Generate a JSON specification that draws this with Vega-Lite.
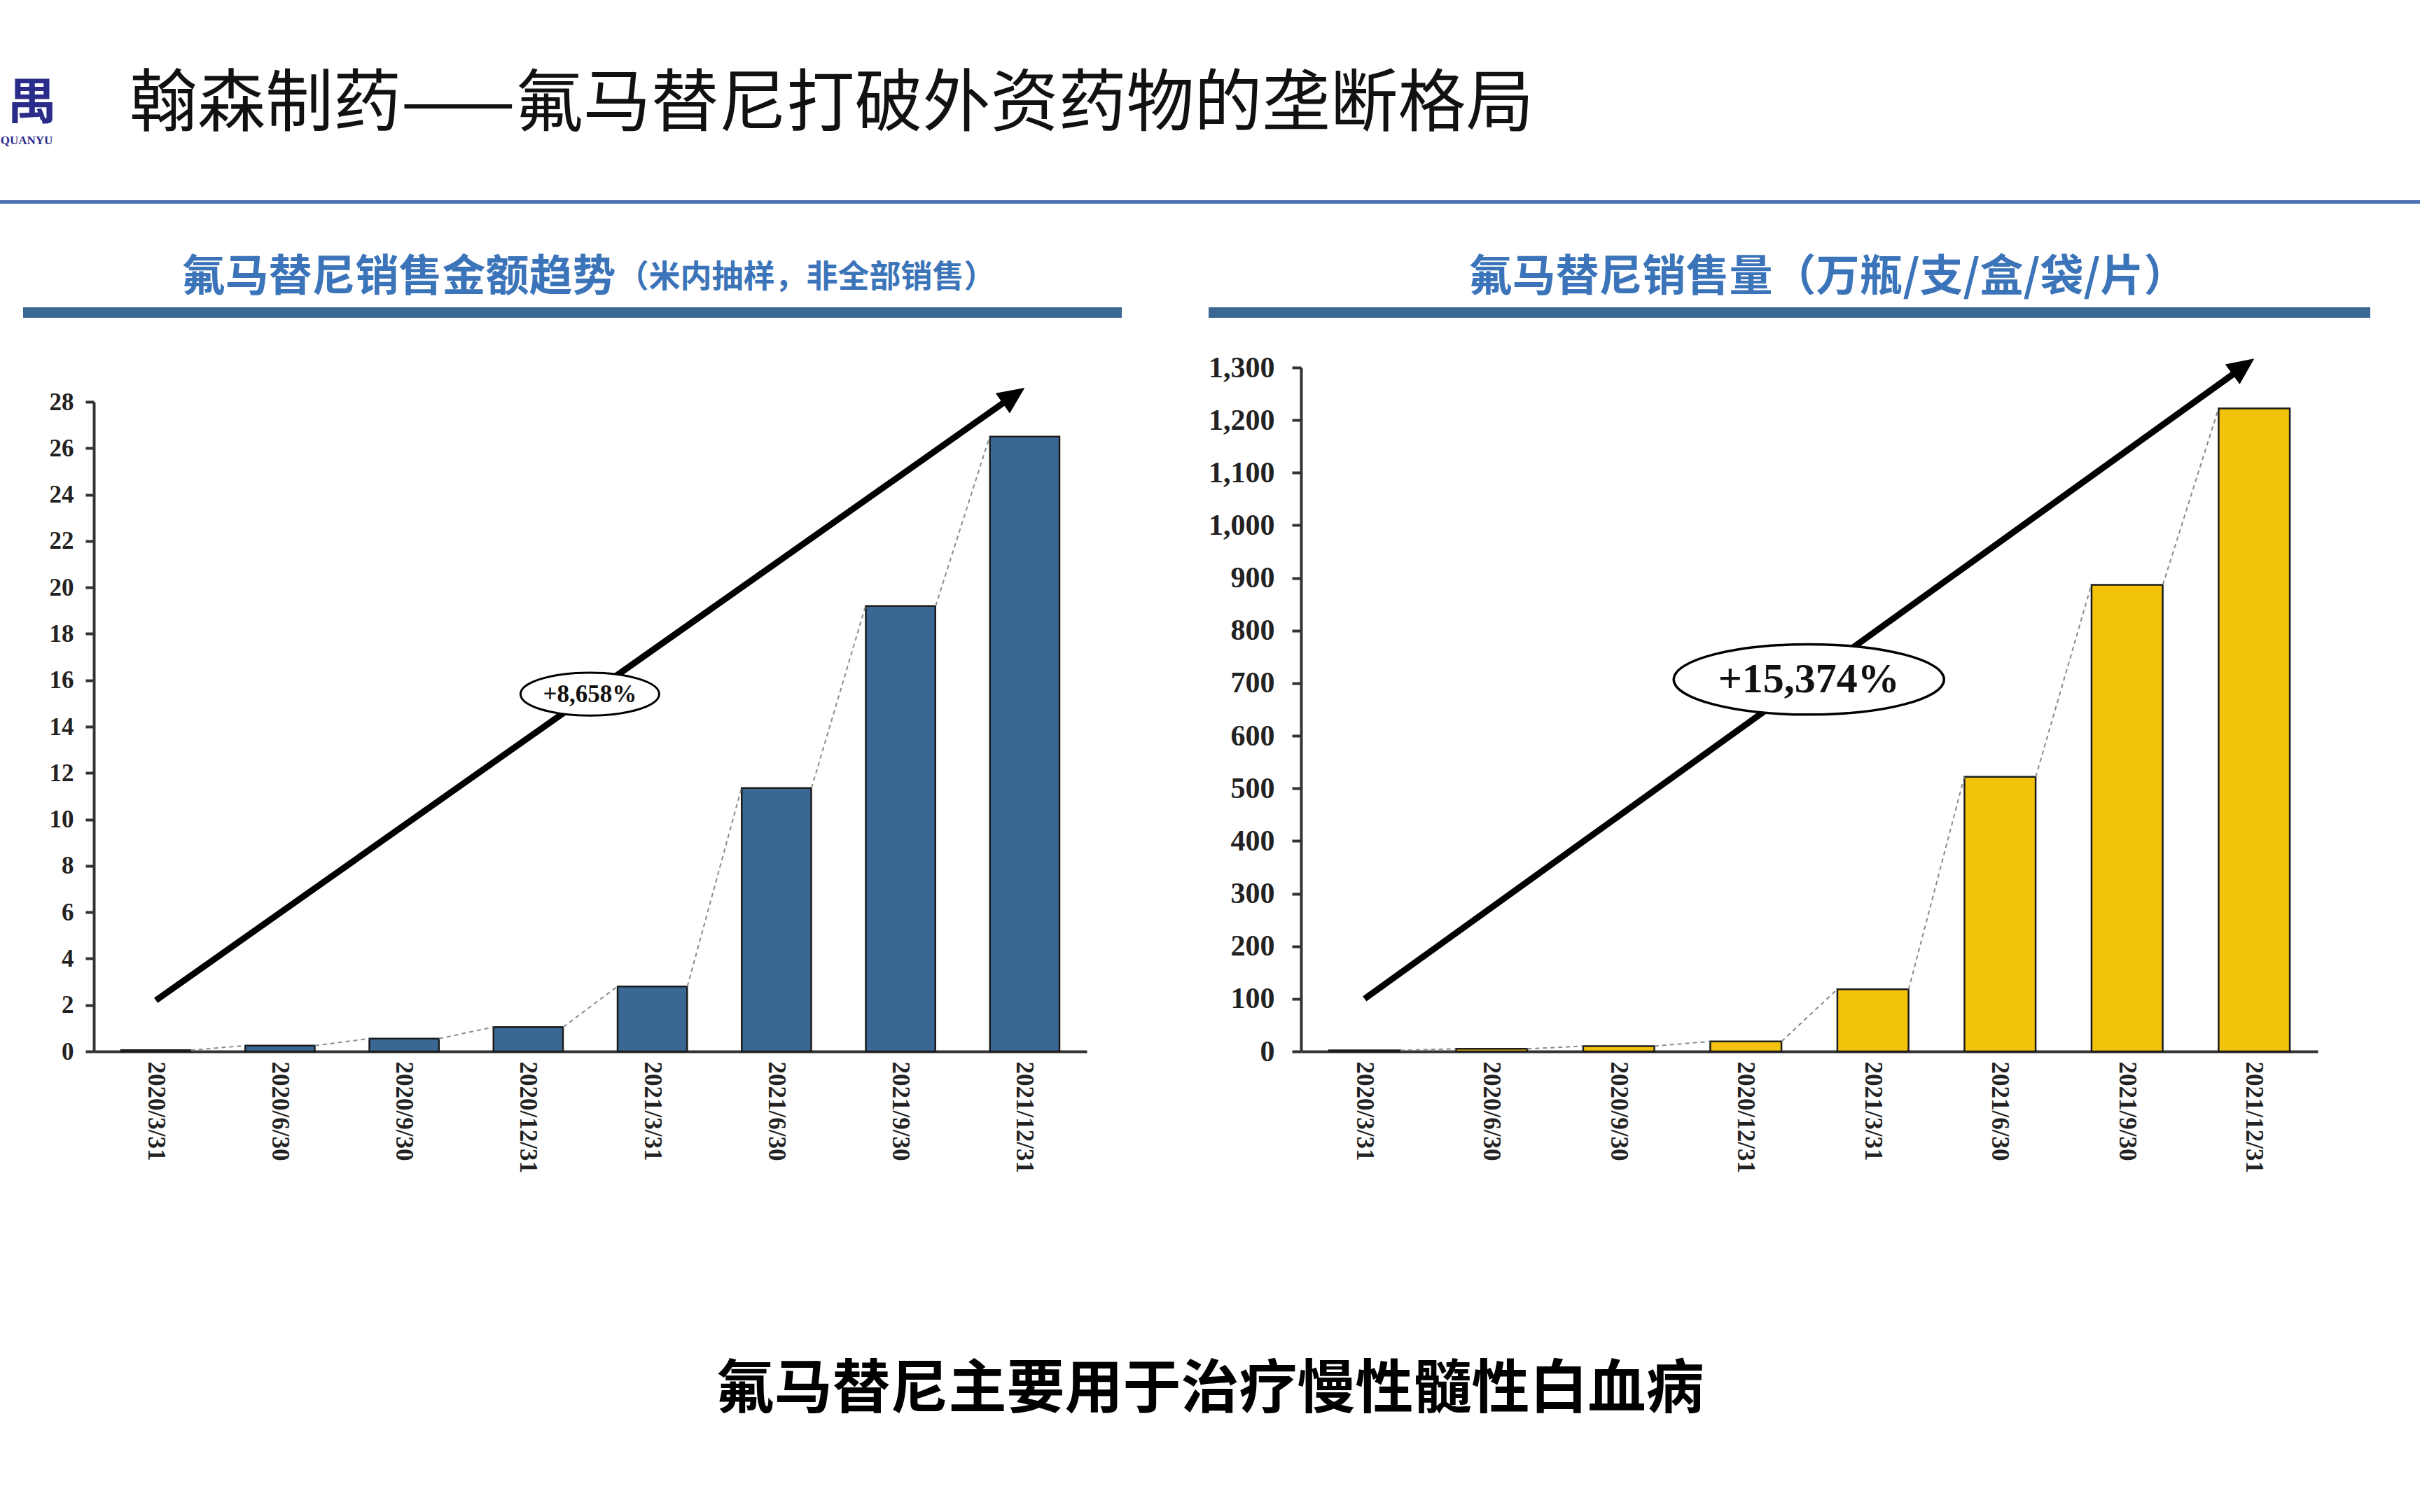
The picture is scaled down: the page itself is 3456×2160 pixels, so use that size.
{
  "$schema": "https://vega.github.io/schema/vega-lite/v6.json",
  "background": "white",
  "padding": {"left": 0, "top": 100, "right": 0, "bottom": 60},
  "config": {"view": {"stroke": null}},
  "datasets": {
    "amount": [
      {"date": "2020/3/31", "value": 0.05, "next": "2020/6/30", "nextValue": 0.25},
      {"date": "2020/6/30", "value": 0.25, "next": "2020/9/30", "nextValue": 0.55},
      {"date": "2020/9/30", "value": 0.55, "next": "2020/12/31", "nextValue": 1.05},
      {"date": "2020/12/31", "value": 1.05, "next": "2021/3/31", "nextValue": 2.8},
      {"date": "2021/3/31", "value": 2.8, "next": "2021/6/30", "nextValue": 11.35},
      {"date": "2021/6/30", "value": 11.35, "next": "2021/9/30", "nextValue": 19.2},
      {"date": "2021/9/30", "value": 19.2, "next": "2021/12/31", "nextValue": 26.5},
      {"date": "2021/12/31", "value": 26.5}
    ],
    "volume": [
      {"date": "2020/3/31", "value": 2, "next": "2020/6/30", "nextValue": 5},
      {"date": "2020/6/30", "value": 5, "next": "2020/9/30", "nextValue": 10},
      {"date": "2020/9/30", "value": 10, "next": "2020/12/31", "nextValue": 19},
      {"date": "2020/12/31", "value": 19, "next": "2021/3/31", "nextValue": 118},
      {"date": "2021/3/31", "value": 118, "next": "2021/6/30", "nextValue": 522},
      {"date": "2021/6/30", "value": 522, "next": "2021/9/30", "nextValue": 887},
      {"date": "2021/9/30", "value": 887, "next": "2021/12/31", "nextValue": 1222},
      {"date": "2021/12/31", "value": 1222}
    ],
    "amountTrend": [
      {"from": "2020/3/31", "to": "2021/12/31", "start": 2.2, "end": 28.6, "label": "+8,658%", "labelAt": "2020/12/31", "labelY": 15.4}
    ],
    "volumeTrend": [
      {"from": "2020/3/31", "to": "2021/12/31", "start": 100, "end": 1317, "label": "+15,374%", "labelAt": "2020/12/31", "labelY": 707}
    ]
  },
  "spacing": 269,
  "vconcat": [
    {
      "spacing": 74,
      "vconcat": [
        {
          "width": 3456,
          "height": 5,
          "data": {"values": [{"title": "翰森制药——氟马替尼打破外资药物的垄断格局", "logo": "禺", "logoEn": "QUANYU"}]},
          "layer": [
            {"mark": {"type": "rect", "color": "#4a70b3"}, "encoding": {}},
            {"mark": {"type": "text", "align": "left", "baseline": "middle", "dx": -1543, "dy": -139, "fontSize": 97, "font": "Noto Sans CJK SC", "fontWeight": 400, "color": "#111111"}, "encoding": {"text": {"field": "title", "type": "nominal"}}},
            {"mark": {"type": "text", "align": "center", "baseline": "middle", "dx": -1682, "dy": -140, "fontSize": 70, "font": "Noto Sans CJK SC", "fontWeight": "bold", "color": "#2b2b8a"}, "encoding": {"text": {"field": "logo", "type": "nominal"}}},
            {"mark": {"type": "text", "align": "center", "baseline": "middle", "dx": -1690, "dy": -88, "fontSize": 17, "font": "Liberation Serif", "fontWeight": "bold", "color": "#2b2b8a"}, "encoding": {"text": {"field": "logoEn", "type": "nominal"}}}
          ]
        },
        {
          "spacing": 50,
          "vconcat": [
            {
              "spacing": 0,
              "hconcat": [
                {"width": 33, "height": 15, "data": {"values": []}, "mark": "rect"},
                {
                  "spacing": 124,
                  "hconcat": [
                    {
                      "width": 1569,
                      "height": 15,
                      "data": {"values": [{"main": "氟马替尼销售金额趋势", "note": "（米内抽样，非全部销售）"}]},
                      "layer": [
                        {"mark": {"type": "rect", "color": "#3b6795"}, "encoding": {}},
                        {"mark": {"type": "text", "align": "right", "baseline": "middle", "dx": 62, "dy": -50, "fontSize": 62, "font": "Noto Sans CJK SC", "fontWeight": "bold", "color": "#3b74b9"}, "encoding": {"text": {"field": "main", "type": "nominal"}}},
                        {"mark": {"type": "text", "align": "left", "baseline": "middle", "dx": 64, "dy": -50, "fontSize": 45, "font": "Noto Sans CJK SC", "fontWeight": "bold", "color": "#3b74b9"}, "encoding": {"text": {"field": "note", "type": "nominal"}}}
                      ]
                    },
                    {
                      "width": 1659,
                      "height": 15,
                      "data": {"values": [{"main": "氟马替尼销售量（万瓶/支/盒/袋/片）"}]},
                      "layer": [
                        {"mark": {"type": "rect", "color": "#3b6795"}, "encoding": {}},
                        {"mark": {"type": "text", "align": "center", "baseline": "middle", "dx": 55, "dy": -50, "fontSize": 62, "font": "Noto Sans CJK SC", "fontWeight": "bold", "color": "#3b74b9"}, "encoding": {"text": {"field": "main", "type": "nominal"}}}
                      ]
                    }
                  ]
                }
              ]
            },
            {
              "spacing": 0,
              "hconcat": [
                {"width": 70, "height": 1, "data": {"values": []}, "mark": "rect"},
                {
                  "spacing": 173,
                  "hconcat": [
                    {
                      "width": 1418,
                      "height": 977,
                      "layer": [
                        {
                          "data": {"name": "amount"},
                          "mark": {"type": "bar", "fill": "#3b6794", "stroke": "#1c1c1c", "strokeWidth": 2.5},
                          "encoding": {
                            "x": {"field": "date", "type": "nominal",
                              "scale": {"type": "band", "domain": ["2020/3/31", "2020/6/30", "2020/9/30", "2020/12/31", "2021/3/31", "2021/6/30", "2021/9/30", "2021/12/31"], "paddingInner": 0.44, "paddingOuter": 0.22},
                              "axis": {"title": null, "labelAngle": 90, "ticks": false, "tickSize": 0, "labelPadding": 14, "domainColor": "#333333", "domainWidth": 4, "labelFont": "Liberation Serif", "labelFontWeight": "bold", "labelFontSize": 35, "labelColor": "#222222"}},
                            "y": {"field": "value", "type": "quantitative",
                              "scale": {"domain": [0, 28], "range": [977, 49], "nice": false, "zero": true},
                              "axis": {"title": null, "grid": false, "values": [0, 2, 4, 6, 8, 10, 12, 14, 16, 18, 20, 22, 24, 26, 28], "domainColor": "#333333", "domainWidth": 4, "tickColor": "#333333", "tickWidth": 4, "tickSize": 12, "labelPadding": 17, "labelFont": "Liberation Serif", "labelFontWeight": "bold", "labelFontSize": 35, "labelColor": "#222222"}}
                          }
                        },
                        {
                          "data": {"name": "amount"},
                          "transform": [{"filter": "datum.next != null"}],
                          "mark": {"type": "rule", "color": "#8a8a8a", "strokeWidth": 2, "strokeDash": [6, 5], "xOffset": 50, "x2Offset": -50},
                          "encoding": {
                            "x": {"field": "date", "type": "nominal", "bandPosition": 0.5},
                            "x2": {"field": "next"},
                            "y": {"field": "value", "type": "quantitative"},
                            "y2": {"field": "nextValue"}
                          }
                        },
                        {
                          "data": {"name": "amountTrend"},
                          "mark": {"type": "rule", "color": "black", "strokeWidth": 9, "x2Offset": -20, "y2Offset": 14},
                          "encoding": {
                            "x": {"field": "from", "type": "nominal", "bandPosition": 0.5},
                            "x2": {"field": "to"},
                            "y": {"field": "start", "type": "quantitative"},
                            "y2": {"field": "end"}
                          }
                        },
                        {
                          "data": {"name": "amountTrend"},
                          "mark": {"type": "point", "shape": "M0,0L-1.2985,0.2377L-0.6675,1.1389Z", "size": 4096, "filled": true, "color": "black", "opacity": 1},
                          "encoding": {
                            "x": {"field": "to", "type": "nominal"},
                            "y": {"field": "end", "type": "quantitative"}
                          }
                        },
                        {
                          "data": {"name": "amountTrend"},
                          "mark": {"type": "point", "shape": "M-1,0A1,0.31,0,1,1,1,0A1,0.31,0,1,1,-1,0Z", "size": 39204, "filled": true, "fill": "white", "stroke": "black", "strokeWidth": 3, "opacity": 1, "fillOpacity": 1, "strokeOpacity": 1, "xOffset": 88},
                          "encoding": {
                            "x": {"field": "labelAt", "type": "nominal"},
                            "y": {"field": "labelY", "type": "quantitative"}
                          }
                        },
                        {
                          "data": {"name": "amountTrend"},
                          "mark": {"type": "text", "align": "center", "baseline": "middle", "dx": 88, "font": "Liberation Serif", "fontWeight": "bold", "fontSize": 35, "color": "#111111"},
                          "encoding": {
                            "x": {"field": "labelAt", "type": "nominal"},
                            "y": {"field": "labelY", "type": "quantitative"},
                            "text": {"field": "label", "type": "nominal"}
                          }
                        }
                      ]
                    },
                    {
                      "width": 1452,
                      "height": 977,
                      "layer": [
                        {
                          "data": {"name": "volume"},
                          "mark": {"type": "bar", "fill": "#f3c30b", "stroke": "#1c1c1c", "strokeWidth": 2.5},
                          "encoding": {
                            "x": {"field": "date", "type": "nominal",
                              "scale": {"type": "band", "domain": ["2020/3/31", "2020/6/30", "2020/9/30", "2020/12/31", "2021/3/31", "2021/6/30", "2021/9/30", "2021/12/31"], "paddingInner": 0.44, "paddingOuter": 0.22},
                              "axis": {"title": null, "labelAngle": 90, "ticks": false, "tickSize": 0, "labelPadding": 14, "domainColor": "#333333", "domainWidth": 4, "labelFont": "Liberation Serif", "labelFontWeight": "bold", "labelFontSize": 35, "labelColor": "#222222"}},
                            "y": {"field": "value", "type": "quantitative",
                              "scale": {"domain": [0, 1300], "nice": false, "zero": true},
                              "axis": {"title": null, "grid": false, "format": ",d", "values": [0, 100, 200, 300, 400, 500, 600, 700, 800, 900, 1000, 1100, 1200, 1300], "domainColor": "#333333", "domainWidth": 4, "tickColor": "#333333", "tickWidth": 4, "tickSize": 13, "labelPadding": 25, "labelFont": "Liberation Serif", "labelFontWeight": "bold", "labelFontSize": 42, "labelColor": "#222222"}}
                          }
                        },
                        {
                          "data": {"name": "volume"},
                          "transform": [{"filter": "datum.next != null"}],
                          "mark": {"type": "rule", "color": "#8a8a8a", "strokeWidth": 2, "strokeDash": [6, 5], "xOffset": 51, "x2Offset": -51},
                          "encoding": {
                            "x": {"field": "date", "type": "nominal", "bandPosition": 0.5},
                            "x2": {"field": "next"},
                            "y": {"field": "value", "type": "quantitative"},
                            "y2": {"field": "nextValue"}
                          }
                        },
                        {
                          "data": {"name": "volumeTrend"},
                          "mark": {"type": "rule", "color": "black", "strokeWidth": 9, "x2Offset": -20, "y2Offset": 15},
                          "encoding": {
                            "x": {"field": "from", "type": "nominal", "bandPosition": 0.5},
                            "x2": {"field": "to"},
                            "y": {"field": "start", "type": "quantitative"},
                            "y2": {"field": "end"}
                          }
                        },
                        {
                          "data": {"name": "volumeTrend"},
                          "mark": {"type": "point", "shape": "M0,0L-1.2941,0.2604L-0.6475,1.1504Z", "size": 4096, "filled": true, "color": "black", "opacity": 1},
                          "encoding": {
                            "x": {"field": "to", "type": "nominal"},
                            "y": {"field": "end", "type": "quantitative"}
                          }
                        },
                        {
                          "data": {"name": "volumeTrend"},
                          "mark": {"type": "point", "shape": "M-1,0A1,0.26,0,1,1,1,0A1,0.26,0,1,1,-1,0Z", "size": 148996, "filled": true, "fill": "white", "stroke": "black", "strokeWidth": 3.5, "opacity": 1, "fillOpacity": 1, "strokeOpacity": 1, "xOffset": 90},
                          "encoding": {
                            "x": {"field": "labelAt", "type": "nominal"},
                            "y": {"field": "labelY", "type": "quantitative"}
                          }
                        },
                        {
                          "data": {"name": "volumeTrend"},
                          "mark": {"type": "text", "align": "center", "baseline": "middle", "dx": 90, "font": "Liberation Serif", "fontWeight": "bold", "fontSize": 60, "color": "#111111"},
                          "encoding": {
                            "x": {"field": "labelAt", "type": "nominal"},
                            "y": {"field": "labelY", "type": "quantitative"},
                            "text": {"field": "label", "type": "nominal"}
                          }
                        }
                      ]
                    }
                  ]
                }
              ]
            }
          ]
        }
      ]
    },
    {
      "width": 3456,
      "height": 80,
      "data": {"values": [{"caption": "氟马替尼主要用于治疗慢性髓性白血病"}]},
      "mark": {"type": "text", "align": "center", "baseline": "middle", "fontSize": 83, "font": "Noto Sans CJK SC", "fontWeight": "bold", "color": "#000000"},
      "encoding": {"text": {"field": "caption", "type": "nominal"}}
    }
  ]
}
